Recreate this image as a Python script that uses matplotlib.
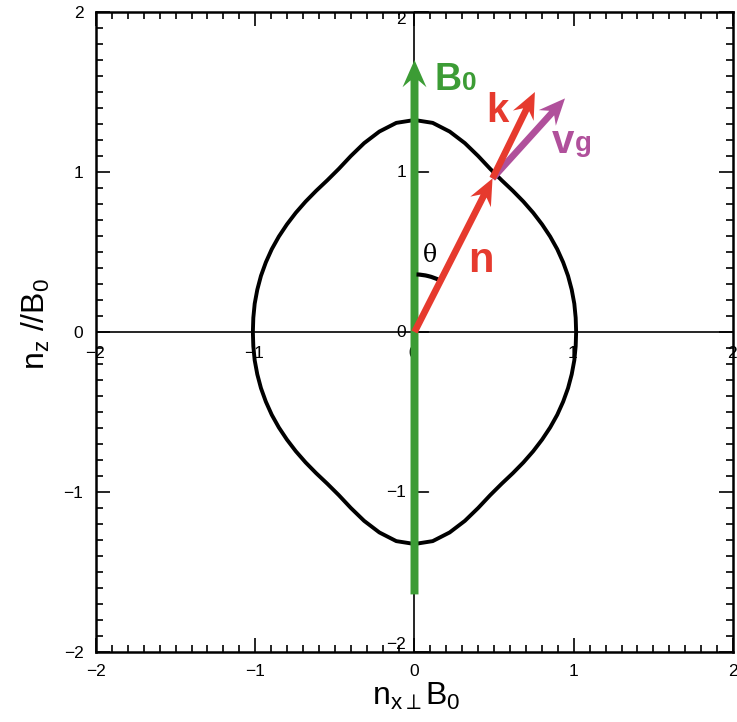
import numpy as np
import matplotlib
matplotlib.use("Agg")
import matplotlib.pyplot as plt
from matplotlib.patches import Arc

plt.rcParams['font.family'] = ['Liberation Sans', 'DejaVu Sans']
plt.rcParams['mathtext.fontset'] = 'custom'
plt.rcParams['mathtext.rm'] = 'Liberation Sans'
plt.rcParams['mathtext.it'] = 'Liberation Sans'
plt.rcParams['mathtext.bf'] = 'Liberation Sans:bold'

# refractive-index surface, first quadrant: angle from B0 (deg) and |n|
q_theta = [0, 5, 10, 15, 20, 25, 30, 35, 40, 45, 50, 55, 60, 65, 70, 75, 80, 85, 90]
q_r = [1.325, 1.312, 1.272, 1.222, 1.17, 1.125, 1.095, 1.077, 1.064, 1.054, 1.046,
       1.040, 1.035, 1.030, 1.026, 1.022, 1.019, 1.016, 1.015]

# vectors (start, end) in data units
b0_start, b0_end = (0.0, -1.64), (0.0, 1.70)
n_start, n_end = (0.0, 0.0), (0.49, 0.96)
k_start, k_end = (0.49, 0.96), (0.756, 1.50)
vg_start, vg_end = (0.49, 0.96), (0.945, 1.46)

ticks = [-2, -1, 0, 1, 2]
tick_labels = ['\u22122', '\u22121', '0', '1', '2']

GREEN = '#3c9c35'
RED = '#e63a2e'
PURPLE = '#b0509b'

fig = plt.figure(figsize=(7.37, 7.22), dpi=100)
ax = fig.add_axes([96/737, 1-652/722, 637/737, 640/722])
ax.set_xlim(-2, 2)
ax.set_ylim(-2, 2)

# closed curve from the quadrant by symmetry
th = np.radians(np.array(q_theta)); rr = np.array(q_r)
qx = rr*np.sin(th); qy = rr*np.cos(th)
cx = np.concatenate([qx, qx[::-1][1:], -qx[1:], -qx[::-1][1:]])
cy = np.concatenate([qy, -qy[::-1][1:], -qy[1:], qy[::-1][1:]])
ax.plot(cx, cy, color='black', lw=2.8, zorder=3, solid_joinstyle='round')

# central axes
ax.axhline(0, color='black', lw=1.2, zorder=2)
ax.axvline(0, color='black', lw=1.2, zorder=2)
for t in ticks:
    ax.annotate('', xy=(0, t), xycoords='data', xytext=(10, 0), textcoords='offset points',
                arrowprops=dict(arrowstyle='-', lw=1.2, color='black', shrinkA=0, shrinkB=0))
vas = {2: 'top', -2: 'bottom'}
for t, lab in zip(ticks, tick_labels):
    ax.annotate(lab, xy=(0, t), xytext=(-6, 0), textcoords='offset points',
                ha='right', va=vas.get(t, 'center'), fontsize=12.5, zorder=2)
    ax.annotate(lab, xy=(t, 0), xytext=(-1, -10), textcoords='offset points',
                ha='center', va='top', fontsize=12.5, zorder=2)

# arrows
def arr(s, e, color, w, hw, hl, z):
    ax.arrow(s[0], s[1], e[0]-s[0], e[1]-s[1], width=w, head_width=hw, head_length=hl,
             length_includes_head=True, overhang=0.25, color=color, lw=0, zorder=z)

arr(b0_start, b0_end, GREEN, 0.05, 0.15, 0.17, 4)
arr(vg_start, vg_end, PURPLE, 0.042, 0.145, 0.165, 5)
arr(k_start, k_end, RED, 0.042, 0.145, 0.165, 6)
arr(n_start, n_end, RED, 0.042, 0.145, 0.165, 6)

# angle arc
ax.add_patch(Arc((0, 0), 0.72, 0.72, theta1=64, theta2=88, color='black', lw=3, zorder=5))
ax.text(0.097, 0.48, '\u03b8', fontsize=17, ha='center', va='center', family='DejaVu Serif')

# vector labels
ax.text(0.125, 1.51, 'B', color=GREEN, fontsize=27, fontweight='bold', va='baseline', ha='left')
ax.text(0.30, 1.51, '0', color=GREEN, fontsize=19, fontweight='bold', va='baseline', ha='left')
ax.text(0.45, 1.31, 'k', color=RED, fontsize=29, fontweight='bold', va='baseline', ha='left')
ax.text(0.335, 0.375, 'n', color=RED, fontsize=30, fontweight='bold', va='baseline', ha='left')
ax.text(0.86, 1.12, 'v', color=PURPLE, fontsize=29, fontweight='bold', va='baseline', ha='left')
ax.text(1.01, 1.13, 'g', color=PURPLE, fontsize=20, fontweight='bold', va='baseline', ha='left')

# box ticks
ax.set_xticks(ticks)
ax.set_yticks(ticks)
ax.set_xticklabels(tick_labels)
ax.set_yticklabels(tick_labels)
ax.set_xticks(np.arange(-2, 2.01, 0.1), minor=True)
ax.set_yticks(np.arange(-2, 2.01, 0.1), minor=True)
ax.tick_params(which='both', direction='in', top=True, right=True, width=1.2, labelsize=12.5)
ax.tick_params(which='major', length=10, pad=9)
ax.tick_params(which='minor', length=5)
for sp in ax.spines.values():
    sp.set_linewidth(1.8)

fig.text(416/737, 1-705/722, r'n$_{\mathregular{x}\perp}$B$_\mathregular{0}$', fontsize=23,
         ha='center', va='baseline')
fig.text(36/737, 1-324/722, r'n$_\mathregular{z}$ //B$_\mathregular{0}$', fontsize=23,
         ha='center', va='center', rotation=90)

fig.savefig('out.png', dpi=100)
